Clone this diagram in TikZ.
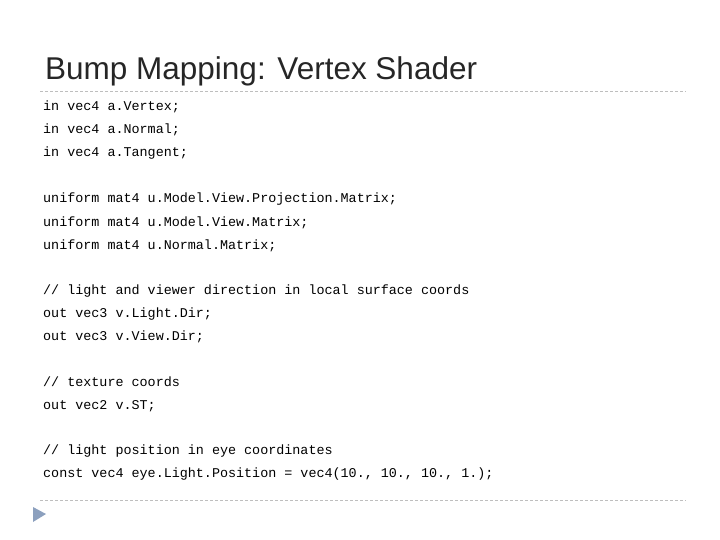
\documentclass[tikz,border=0pt]{standalone}
\usepackage{fontspec}
\setmainfont{Liberation Sans}
\newfontfamily\codefont{Liberation Mono}
\definecolor{rulegray}{RGB}{190,190,190}
\definecolor{tri}{RGB}{140,160,190}
\begin{document}
\begin{tikzpicture}[x=1pt,y=-1pt,
  code/.style={anchor=base west,inner sep=0pt,font=\codefont\fontsize{13.4}{14}\selectfont},
  sep/.style={draw=rulegray,dashed,dash pattern=on 3pt off 2pt}]
\useasboundingbox (0,0) rectangle (720,540);
\node[anchor=base west,inner sep=0pt,font=\fontsize{31.5}{33}\selectfont,text=black!85] (title) at (45,80) {Bump Mapping: Vertex Shader};
\coordinate (l1a) at (40,91); \coordinate (l1b) at (686,91);
\draw[sep] (l1a) -- (l1b);
\coordinate (l2a) at (40,500); \coordinate (l2b) at (686,500);
\draw[sep] (l2a) -- (l2b);
\node[code] (c1) at (43,111) {in vec4 a.Vertex;};
\node[code] (c2) at (43,134) {in vec4 a.Normal;};
\node[code] (c3) at (43,157) {in vec4 a.Tangent;};
\node[code] (c4) at (43,203) {uniform mat4 u.Model.View.Projection.Matrix;};
\node[code] (c5) at (43,226) {uniform mat4 u.Model.View.Matrix;};
\node[code] (c6) at (43,249) {uniform mat4 u.Normal.Matrix;};
\node[code] (c7) at (43,294) {// light and viewer direction in local surface coords};
\node[code] (c8) at (43,317) {out vec3 v.Light.Dir;};
\node[code] (c9) at (43,340) {out vec3 v.View.Dir;};
\node[code] (c10) at (43,386) {// texture coords};
\node[code] (c11) at (43,409) {out vec2 v.ST;};
\node[code] (c12) at (43,454) {// light position in eye coordinates};
\node[code] (c13) at (43,477) {const vec4 eye.Light.Position = vec4(10., 10., 10., 1.);};
\fill[tri] (33,507) -- (46,514) -- (33,522) -- cycle;
\end{tikzpicture}
\end{document}
